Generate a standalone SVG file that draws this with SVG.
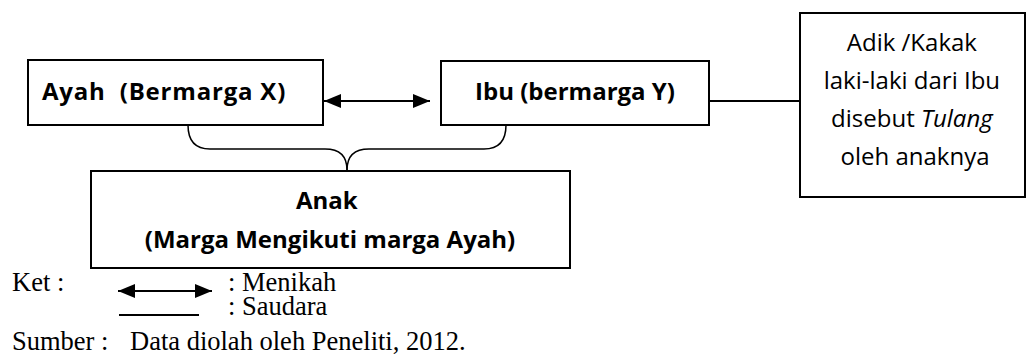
<svg xmlns="http://www.w3.org/2000/svg" width="1027" height="356" viewBox="0 0 1027 356">
<style>
.box{fill:#fff;stroke:#000;stroke-width:2}
.lbl{font-family:"Open Sans","Liberation Sans",sans-serif;font-weight:bold;font-size:24px;fill:#000}
.reg{font-family:"Open Sans","Liberation Sans",sans-serif;font-size:24px;fill:#000}
.tm{font-family:"Liberation Serif","Times New Roman",serif;font-size:26.5px;fill:#000}
.ln{fill:none;stroke:#000;stroke-width:2}
.br{fill:none;stroke:#000;stroke-width:1.5}
</style>
<defs>
<marker id="ah" viewBox="0 0 17 14" refX="17" refY="7" markerWidth="17" markerHeight="14" markerUnits="userSpaceOnUse" orient="auto-start-reverse">
<path d="M0,0 L17,7 L0,14 Z" fill="#000"/>
</marker>
</defs>
<rect width="1027" height="356" fill="#fff"/>
<g id="ayah">
<rect class="box" x="28" y="60" width="295" height="65"/>
<text class="lbl" x="42" y="100" letter-spacing="0.8" xml:space="preserve">Ayah  (Bermarga X)</text>
</g>
<g id="ibu">
<rect class="box" x="441" y="61" width="268" height="64"/>
<text class="lbl" x="575" y="100" text-anchor="middle">Ibu (bermarga Y)</text>
</g>
<g id="tulang">
<rect class="box" x="800" y="13" width="225" height="184"/>
<text class="reg" text-anchor="middle">
<tspan x="915" y="51">Adik /Kakak</tspan>
<tspan x="915" y="89">laki-laki dari Ibu</tspan>
<tspan x="915" y="127">disebut <tspan font-style="italic">Tulang</tspan></tspan>
<tspan x="915" y="165">oleh anaknya</tspan>
</text>
</g>
<g id="anak">
<rect class="box" x="91" y="171" width="479" height="97"/>
<text class="lbl" text-anchor="middle">
<tspan x="330" y="209">Anak</tspan>
<tspan x="330" y="248">(Marga Mengikuti marga Ayah)</tspan>
</text>
</g>
<g id="connectors">
<line class="ln" x1="324" y1="101" x2="430" y2="101" marker-start="url(#ah)" marker-end="url(#ah)"/>
<line class="ln" x1="709" y1="101" x2="800" y2="101"/>
<path class="br" d="M188,125 C188,141 195,149 210,149 L325,149 C340,149 347,157 347,170"/>
<path class="br" d="M506,125 C506,141 499,149 484,149 L369,149 C354,149 347,157 347,170"/>
</g>
<g id="legend">
<text class="tm" x="12" y="291">Ket :</text>
<line class="ln" x1="118" y1="291" x2="212" y2="291" marker-start="url(#ah)" marker-end="url(#ah)"/>
<text class="tm" x="228" y="291">: Menikah</text>
<line class="ln" x1="119" y1="315" x2="199" y2="315" stroke-width="1.5"/>
<text class="tm" x="228" y="315">: Saudara</text>
<text class="tm" x="12" y="350">Sumber :</text>
<text class="tm" x="130" y="350">Data diolah oleh Peneliti, 2012.</text>
</g>
</svg>
